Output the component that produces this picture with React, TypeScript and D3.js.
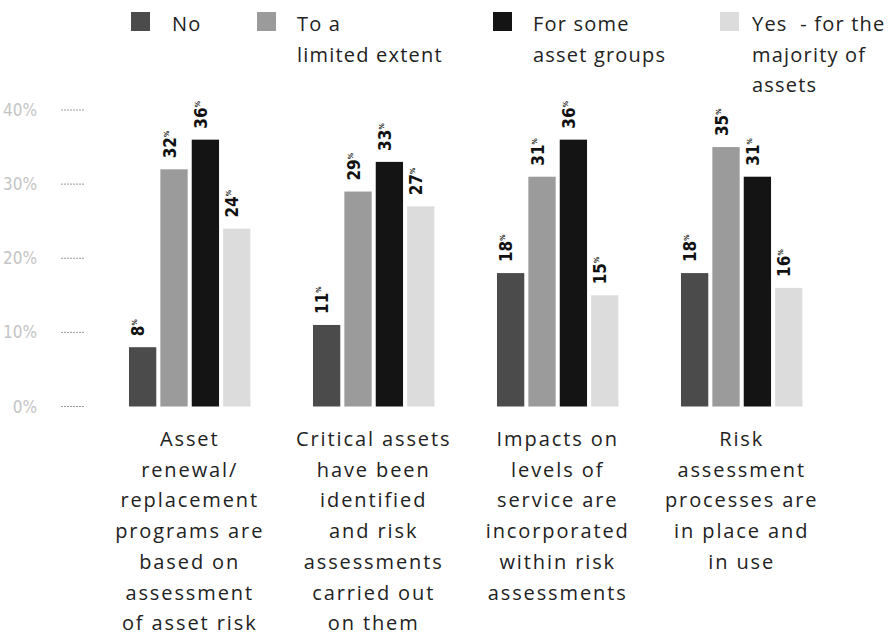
import React, { useEffect, useRef } from "react"
import * as d3 from "d3"

// categories (x axis), line broken as in the picture
const categories = [
  ["Asset", "renewal/", "replacement", "programs are", "based on", "assessment", "of asset risk"],
  ["Critical assets", "have been", "identified", "and risk", "assessments", "carried out", "on them"],
  ["Impacts on", "levels of", "service are", "incorporated", "within risk", "assessments"],
  ["Risk", "assessment", "processes are", "in place and", "in use"],
]
const seriesNames = ["No", "To a limited extent", "For some asset groups", "Yes - for the majority of assets"]
const legendLines = [["No"], ["To a", "limited extent"], ["For some", "asset groups"], ["Yes  - for the", "majority of", "assets"]]

// values in %
const noValues = [8, 11, 18, 18]
const limitedValues = [32, 29, 31, 35]
const someValues = [36, 33, 36, 31]
const yesValues = [24, 27, 15, 16]
const yTicks = [0, 10, 20, 30, 40]

const colors = ["#4b4b4b", "#9b9b9b", "#141414", "#dcdcdc"]
const legendX = [131, 257, 493, 720] // square left edges
const legendTextGap = [41, 40, 40, 32]

export default function App() {
  const ref = useRef<SVGSVGElement>(null)

  useEffect(() => {
    const svg = d3.select(ref.current)
    svg.selectAll("*").remove()

    const allSeries = [noValues, limitedValues, someValues, yesValues]
    const catIdx = categories.map((_, i) => i)

    const x0 = d3.scaleBand<number>().domain(catIdx).range([97.7, 833.7]).paddingInner(0.34).paddingOuter(0.17)
    const x1 = d3.scaleBand<number>().domain([0, 1, 2, 3]).range([0, x0.bandwidth()]).paddingInner(0.13)
    const y = d3.scaleLinear().domain([0, 40]).range([406.5, 110])

    // y axis: faint labels and short dotted tick lines
    const ax = svg.append("g")
    ax.selectAll("text").data(yTicks).join("text")
      .attr("x", 37).attr("y", d => y(d) + 6)
      .attr("text-anchor", "end")
      .attr("font-family", "'Liberation Sans Narrow', 'DejaVu Sans Condensed', sans-serif")
      .attr("font-size", 17).attr("fill", "#c4c4c4")
      .text(d => d + "%")
    ax.selectAll("line").data(yTicks).join("line")
      .attr("x1", 61).attr("x2", 84)
      .attr("y1", d => y(d)).attr("y2", d => y(d))
      .attr("stroke", "#9a9a9a").attr("stroke-width", 1).attr("stroke-dasharray", "2,1")

    // bars
    const groups = svg.append("g").selectAll("g").data(catIdx).join("g")
      .attr("transform", d => `translate(${x0(d)},0)`)

    groups.selectAll("rect")
      .data(c => allSeries.map((s, si) => ({ si, v: s[c] })))
      .join("rect")
      .attr("x", d => x1(d.si)!)
      .attr("y", d => y(d.v))
      .attr("width", x1.bandwidth())
      .attr("height", d => y(0) - y(d.v))
      .attr("fill", d => colors[d.si])

    // rotated value labels
    const lab = groups.selectAll("text.val")
      .data(c => allSeries.map((s, si) => ({ si, v: s[c] })))
      .join("text")
      .attr("class", "val")
      .attr("transform", d => `translate(${x1(d.si)! + x1.bandwidth() / 2 + 1.5},${y(d.v) - 11}) rotate(-90)`)
      .attr("font-family", "'DejaVu Sans Condensed', 'Liberation Sans Narrow', sans-serif")
      .attr("font-weight", "bold")
      .attr("font-size", 17)
      .attr("fill", "#111")
    lab.append("tspan").text(d => d.v)
    lab.append("tspan").attr("font-size", 7).attr("dy", -7).text("%")

    // category labels
    const font = "'Open Sans', 'DejaVu Sans', sans-serif"
    groups.each(function (c) {
      d3.select(this).append("text")
        .attr("text-anchor", "middle")
        .attr("font-family", font).attr("font-size", 20)
        .attr("letter-spacing", 1.9).attr("fill", "#222")
        .selectAll("tspan").data(categories[c]).join("tspan")
        .attr("x", x0.bandwidth() / 2)
        .attr("y", (_, i) => 446 + i * 30.7)
        .text(t => t)
    })

    // legend
    const leg = svg.append("g").selectAll("g").data(seriesNames).join("g")
    leg.append("rect")
      .attr("x", (_, i) => legendX[i]).attr("y", 12)
      .attr("width", 19).attr("height", 19)
      .attr("fill", (_, i) => colors[i])
    leg.append("text")
      .attr("font-family", font).attr("font-size", 20)
      .attr("letter-spacing", 1.2).attr("fill", "#222")
      .each(function (_, i) {
        d3.select(this).selectAll("tspan").data(legendLines[i]).join("tspan")
          .attr("x", legendX[i] + legendTextGap[i])
          .attr("y", (_, j) => 31 + j * 30.5)
          .attr("xml:space", "preserve")
          .text(t => t)
      })
  }, [])

  return (
    <svg ref={ref} width={895} height={635}
      style={{ position: "absolute", left: 0, top: 0, background: "#fff" }} />
  )
}
